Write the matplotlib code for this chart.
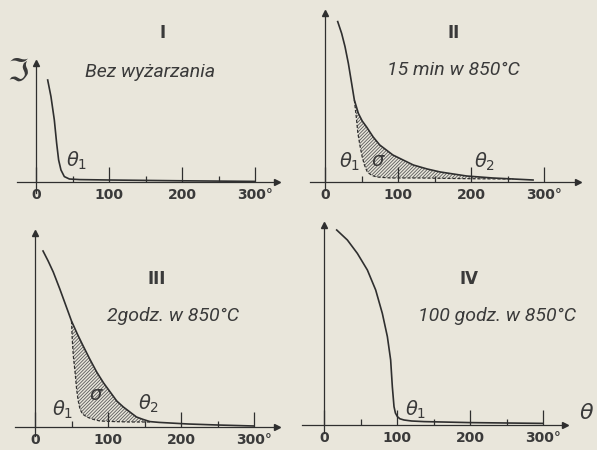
import matplotlib
matplotlib.use("Agg")
import matplotlib.pyplot as plt
from matplotlib.ticker import FixedLocator

plt.rcParams['mathtext.fontset'] = 'dejavusans'
plt.rcParams['hatch.linewidth'] = 0.6

W, H = 597, 450
SX, SY = 0.73, 2.0   # pixels per degree / per intensity unit
BG = '#e9e6db'
INK = '#2f2f2f'

# --- data (theta in degrees, intensity in arbitrary units) ---
th_1 = [16, 20.5, 25.1, 28.3, 31, 34.2, 38.8, 45.7, 60, 100, 200, 300]
in_1 = [51, 42.7, 31, 19.3, 11, 6, 2.7, 1.5, 1.2, 1.0, 0.6, 0.3]

th_2 = [17.4, 22.8, 27.4, 32, 36.5, 40.2, 45.7, 51, 57, 66, 75, 84, 93, 107,
        121, 140, 158, 176, 194, 212, 230, 258, 285]
in_2 = [80.2, 74.3, 67.7, 59.3, 49.3, 41, 34.3, 30.5, 27.5, 22.5, 18.5, 16,
        13.5, 11, 8.5, 6.5, 5, 4, 3, 2.5, 2, 1.5, 1]
dash_th_2 = [40.2, 43, 45, 48, 51, 54, 58, 64, 71, 90, 130, 170, 210, 258]
dash_in_2 = [41, 32, 24.5, 18, 12.5, 8.5, 5, 3.3, 2.5, 2, 2, 1.8, 1.6, 1.5]

th_3 = [11, 18, 25, 34, 44, 50, 58, 66, 75, 84.5, 94, 103, 112, 121, 130,
        139, 148, 157.5, 170, 185, 210, 250, 300]
in_3 = [88, 83, 77.5, 69, 59, 53, 46.5, 40.5, 34, 27.5, 22, 17.5, 13, 10,
        7.5, 5, 3.8, 2.7, 2.3, 2, 1.5, 1, 0.5]
dash_th_3 = [50, 51, 52.5, 55, 57, 59, 61.6, 65, 71, 80, 89, 110, 130, 157.5]
dash_in_3 = [53, 44, 35.5, 27, 19, 13.5, 9, 6.5, 5, 3.8, 3, 2.7, 2.5, 2.5]

th_4 = [17.4, 32, 45.7, 59.4, 70.8, 79.9, 86.8, 91.3, 93.6, 95.9, 97.8,
        100.5, 104, 109.6, 120, 137, 200, 250, 300]
in_4 = [97.5, 92.5, 85.8, 77.5, 67.5, 55.8, 44.2, 32.5, 19.2, 9.2, 6.0,
        4.2, 3.1, 2.5, 2.0, 1.7, 1.2, 1.0, 0.8]

major_ticks = [0, 100, 200, 300]
minor_ticks = [50, 150, 250]
tick_labels = ['0', '100', '200', '300°']

roman = ['I', 'II', 'III', 'IV']
captions = ['Bez wyżarzania', '15 min w 850°C', '2godz. w 850°C', '100 godz. w 850°C']

fig = plt.figure(figsize=(W / 100, H / 100), dpi=100, facecolor=BG)


def px(x, y):
    return x / W, 1 - y / H


def add_panel(x0, y0, xlim, ylim):
    left, top = px(x0 + xlim[0] * SX, y0 - ylim[1] * SY)
    right, bottom = px(x0 + xlim[1] * SX, y0 - ylim[0] * SY)
    ax = fig.add_axes([left, bottom, right - left, top - bottom])
    ax.set_facecolor('none')
    ax.set_xlim(xlim)
    ax.set_ylim(ylim)
    for s in ['top', 'right']:
        ax.spines[s].set_visible(False)
    ax.spines['left'].set_position(('data', 0))
    ax.spines['bottom'].set_position(('data', 0))
    for s in ['left', 'bottom']:
        ax.spines[s].set_color(INK)
        ax.spines[s].set_linewidth(0.9)
    ax.set_yticks([])
    ax.xaxis.set_major_locator(FixedLocator(major_ticks))
    ax.xaxis.set_minor_locator(FixedLocator(minor_ticks))
    ax.set_xticklabels(tick_labels, fontsize=10, fontweight='bold', color='#3a3a3a')
    ax.tick_params(axis='x', which='major', direction='in', length=11, width=0.9,
                   color=INK, pad=4)
    ax.tick_params(axis='x', which='minor', direction='in', length=4.5, width=0.9,
                   color=INK)
    # arrow heads
    ax.plot([xlim[1]], [0], marker='>', ms=5, color=INK, clip_on=False)
    ax.plot([0], [ylim[1]], marker='^', ms=5, color=INK, clip_on=False)
    return ax


def hatch_region(ax, th, inten, dth, din):
    t0, t1 = dth[0], dth[-1]
    top = [(t, v) for t, v in zip(th, inten) if t0 <= t <= t1]
    bot = list(zip(dth, din))[::-1]
    poly = top + bot
    ax.fill([p[0] for p in poly], [p[1] for p in poly], facecolor='none',
            edgecolor='#5a5a5a', hatch='//////////', linewidth=0)
    ax.plot(dth, din, color=INK, lw=0.9, ls=(0, (2.5, 1.5)))


ax1 = add_panel(36, 182, (-26, 330), (-5.5, 59.5))
ax1.plot(th_1, in_1, color=INK, lw=1.2)

ax2 = add_panel(325, 182, (-20, 346), (-4, 84.5))
hatch_region(ax2, th_2, in_2, dash_th_2, dash_in_2)
ax2.plot(th_2, in_2, color=INK, lw=1.2)

ax3 = add_panel(35, 427, (-27, 331), (-4.5, 97))
hatch_region(ax3, th_3, in_3, dash_th_3, dash_in_3)
ax3.plot(th_3, in_3, color=INK, lw=1.2)

ax4 = add_panel(324, 425, (-30, 330), (-4, 100))
ax4.plot(th_4, in_4, color=INK, lw=1.2)

# text
cap_font = dict(family=['Roboto', 'DejaVu Sans'], style='italic',
                fontsize=14, color='#3a3a3a', ha='center', va='center')
rom_font = dict(family='DejaVu Sans', fontweight='bold', fontsize=12,
                color='#3a3a3a', ha='center', va='center')
sym_font = dict(fontsize=14, color='#3a3a3a', ha='center', va='center')

roman_pos = [(163, 33), (454, 33), (157, 279), (469, 279)]
caption_pos = [(150, 72), (453, 70), (173, 316), (497, 316)]
for r, (x, y) in zip(roman, roman_pos):
    fig.text(*px(x, y), r, **rom_font)
for c, (x, y) in zip(captions, caption_pos):
    fig.text(*px(x, y), c, **cap_font)

fig.text(*px(18, 72), 'ℑ', fontsize=22, color='#3a3a3a', ha='center', va='center')
fig.text(*px(587, 413), r'$\theta$', fontsize=16, color='#3a3a3a', ha='center', va='center')

fig.text(*px(77, 161), r'$\theta_1$', **sym_font)
fig.text(*px(350, 162), r'$\theta_1$', **sym_font)
fig.text(*px(378, 161), r'$\sigma$', **sym_font)
fig.text(*px(485, 162), r'$\theta_2$', **sym_font)
fig.text(*px(63, 410), r'$\theta_1$', **sym_font)
fig.text(*px(96, 395), r'$\sigma$', **sym_font)
fig.text(*px(149, 404), r'$\theta_2$', **sym_font)
fig.text(*px(416, 410), r'$\theta_1$', **sym_font)

fig.savefig('out.png', dpi=100, facecolor=BG)
